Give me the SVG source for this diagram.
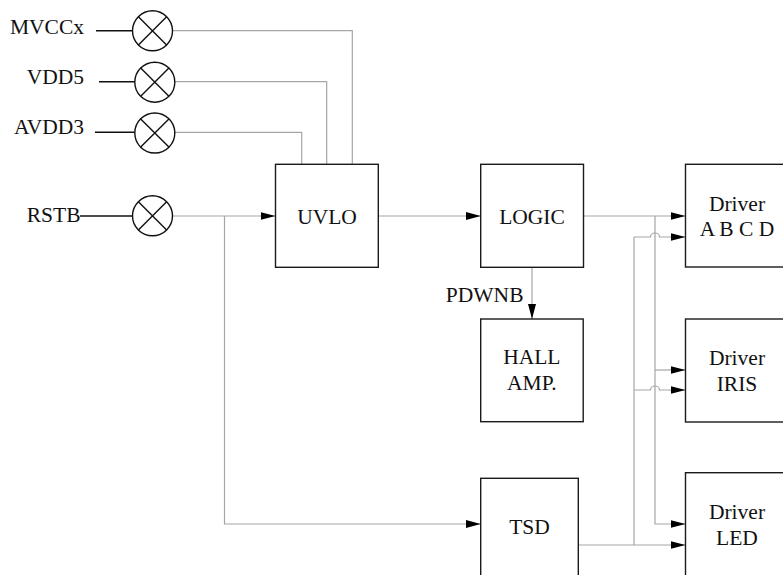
<svg xmlns="http://www.w3.org/2000/svg" width="783" height="575" viewBox="0 0 783 575" font-family="Liberation Serif, Times New Roman, serif">
<style>
  .box{fill:#fff;stroke:#1a1a1a;stroke-width:1.4}
  text{font-family:"Liberation Serif","Times New Roman",serif;font-size:21.5px;fill:#111}
  .c{text-anchor:middle}
  .e{text-anchor:end}
  .w{fill:none;stroke:#a6a6a6;stroke-width:1.2}
  .k{fill:none;stroke:#111;stroke-width:1.4}
  .pad{fill:#fff;stroke:#111;stroke-width:1.4}
</style>
<defs>
  <marker id="arr" markerUnits="userSpaceOnUse" markerWidth="16" markerHeight="9" refX="15" refY="4" orient="auto">
    <path d="M0,0 L15,4 L0,8 z" fill="#000"/>
  </marker>
</defs>
<rect width="783" height="575" fill="#fff"/>

<g id="connectors">
  <path class="w" d="M173,30.7 H352.3 V164.3"/>
  <path class="w" d="M175,81.7 H326.7 V164.3"/>
  <path class="w" d="M175,132.3 H301.7 V164.3"/>
  <path class="w" d="M173,216 H275.5" marker-end="url(#arr)"/>
  <path class="w" d="M224.5,216 V524 H480.7" marker-end="url(#arr)"/>
  <path class="w" d="M378.3,216 H480.7" marker-end="url(#arr)"/>
  <path class="w" d="M583.5,216 H685.5" marker-end="url(#arr)"/>
  <path class="w" d="M655,216 V524 H685.5" marker-end="url(#arr)"/>
  <path class="w" d="M655,370 H685.5" marker-end="url(#arr)"/>
  <path class="w" d="M578.3,545 H685.5" marker-end="url(#arr)"/>
  <path class="w" d="M634,545 V237"/>
  <path class="w" d="M634,237 H650.5 A4.5,4 0 0 1 659.5,237 H685.5" marker-end="url(#arr)"/>
  <path class="w" d="M634,390 H650.5 A4.5,4 0 0 1 659.5,390 H685.5" marker-end="url(#arr)"/>
  <path class="w" d="M532,267.3 V319" marker-end="url(#arr)"/>
  <text class="e" x="523.5" y="302" font-family="Liberation Serif, serif">PDWNB</text>
</g>

<g id="MVCCx">
  <text class="e" x="84" y="33.5" font-family="Liberation Serif, serif">MVCCx</text>
  <line class="k" x1="96" y1="30.7" x2="132.5" y2="30.7"/>
  <circle class="pad" cx="152.5" cy="30.8" r="20"/>
  <path class="k" d="M138.4,16.7 L166.6,44.9 M166.6,16.7 L138.4,44.9"/>
</g>
<g id="VDD5">
  <text class="e" x="84" y="83.5" font-family="Liberation Serif, serif">VDD5</text>
  <line class="k" x1="99" y1="81.7" x2="134.8" y2="81.7"/>
  <circle class="pad" cx="154.8" cy="82.2" r="20"/>
  <path class="k" d="M140.7,68.1 L168.9,96.3 M168.9,68.1 L140.7,96.3"/>
</g>
<g id="AVDD3">
  <text class="e" x="84" y="134" font-family="Liberation Serif, serif">AVDD3</text>
  <line class="k" x1="95" y1="132.3" x2="134.8" y2="132.3"/>
  <circle class="pad" cx="154.8" cy="133" r="20"/>
  <path class="k" d="M140.7,118.9 L168.9,147.1 M168.9,118.9 L140.7,147.1"/>
</g>
<g id="RSTB">
  <text class="e" x="80.5" y="222" font-family="Liberation Serif, serif">RSTB</text>
  <line class="k" x1="80" y1="216" x2="132.5" y2="216"/>
  <circle class="pad" cx="152.5" cy="215.8" r="20"/>
  <path class="k" d="M138.4,201.7 L166.6,229.9 M166.6,201.7 L138.4,229.9"/>
</g>

<g id="UVLO">
  <rect class="box" x="275.5" y="164.3" width="102.8" height="103"/>
  <text class="c" x="327" y="223.5" font-family="Liberation Serif, serif">UVLO</text>
</g>
<g id="LOGIC">
  <rect class="box" x="480.7" y="164.3" width="102.8" height="103"/>
  <text class="c" x="532" y="223.5" font-family="Liberation Serif, serif">LOGIC</text>
</g>
<g id="HALL">
  <rect class="box" x="480.7" y="319" width="102.5" height="102.7"/>
  <text class="c" x="531.8" y="363.5" font-family="Liberation Serif, serif">HALL</text>
  <text class="c" x="531.8" y="389.5" font-family="Liberation Serif, serif">AMP.</text>
</g>
<g id="TSD">
  <rect class="box" x="480.7" y="478.3" width="97.6" height="110"/>
  <text class="c" x="529.5" y="533.5" font-family="Liberation Serif, serif">TSD</text>
</g>
<g id="DriverABCD">
  <rect class="box" x="685.5" y="164.3" width="103" height="102.7"/>
  <text class="c" x="737" y="210.5" font-family="Liberation Serif, serif">Driver</text>
  <text class="c" x="737" y="235.5" font-family="Liberation Serif, serif">A B C D</text>
</g>
<g id="DriverIRIS">
  <rect class="box" x="685.5" y="319" width="103" height="103"/>
  <text class="c" x="737" y="364.5" font-family="Liberation Serif, serif">Driver</text>
  <text class="c" x="737" y="390.5" font-family="Liberation Serif, serif">IRIS</text>
</g>
<g id="DriverLED">
  <rect class="box" x="685.5" y="472.7" width="103" height="110"/>
  <text class="c" x="737" y="518.5" font-family="Liberation Serif, serif">Driver</text>
  <text class="c" x="737" y="544.5" font-family="Liberation Serif, serif">LED</text>
</g>
</svg>
